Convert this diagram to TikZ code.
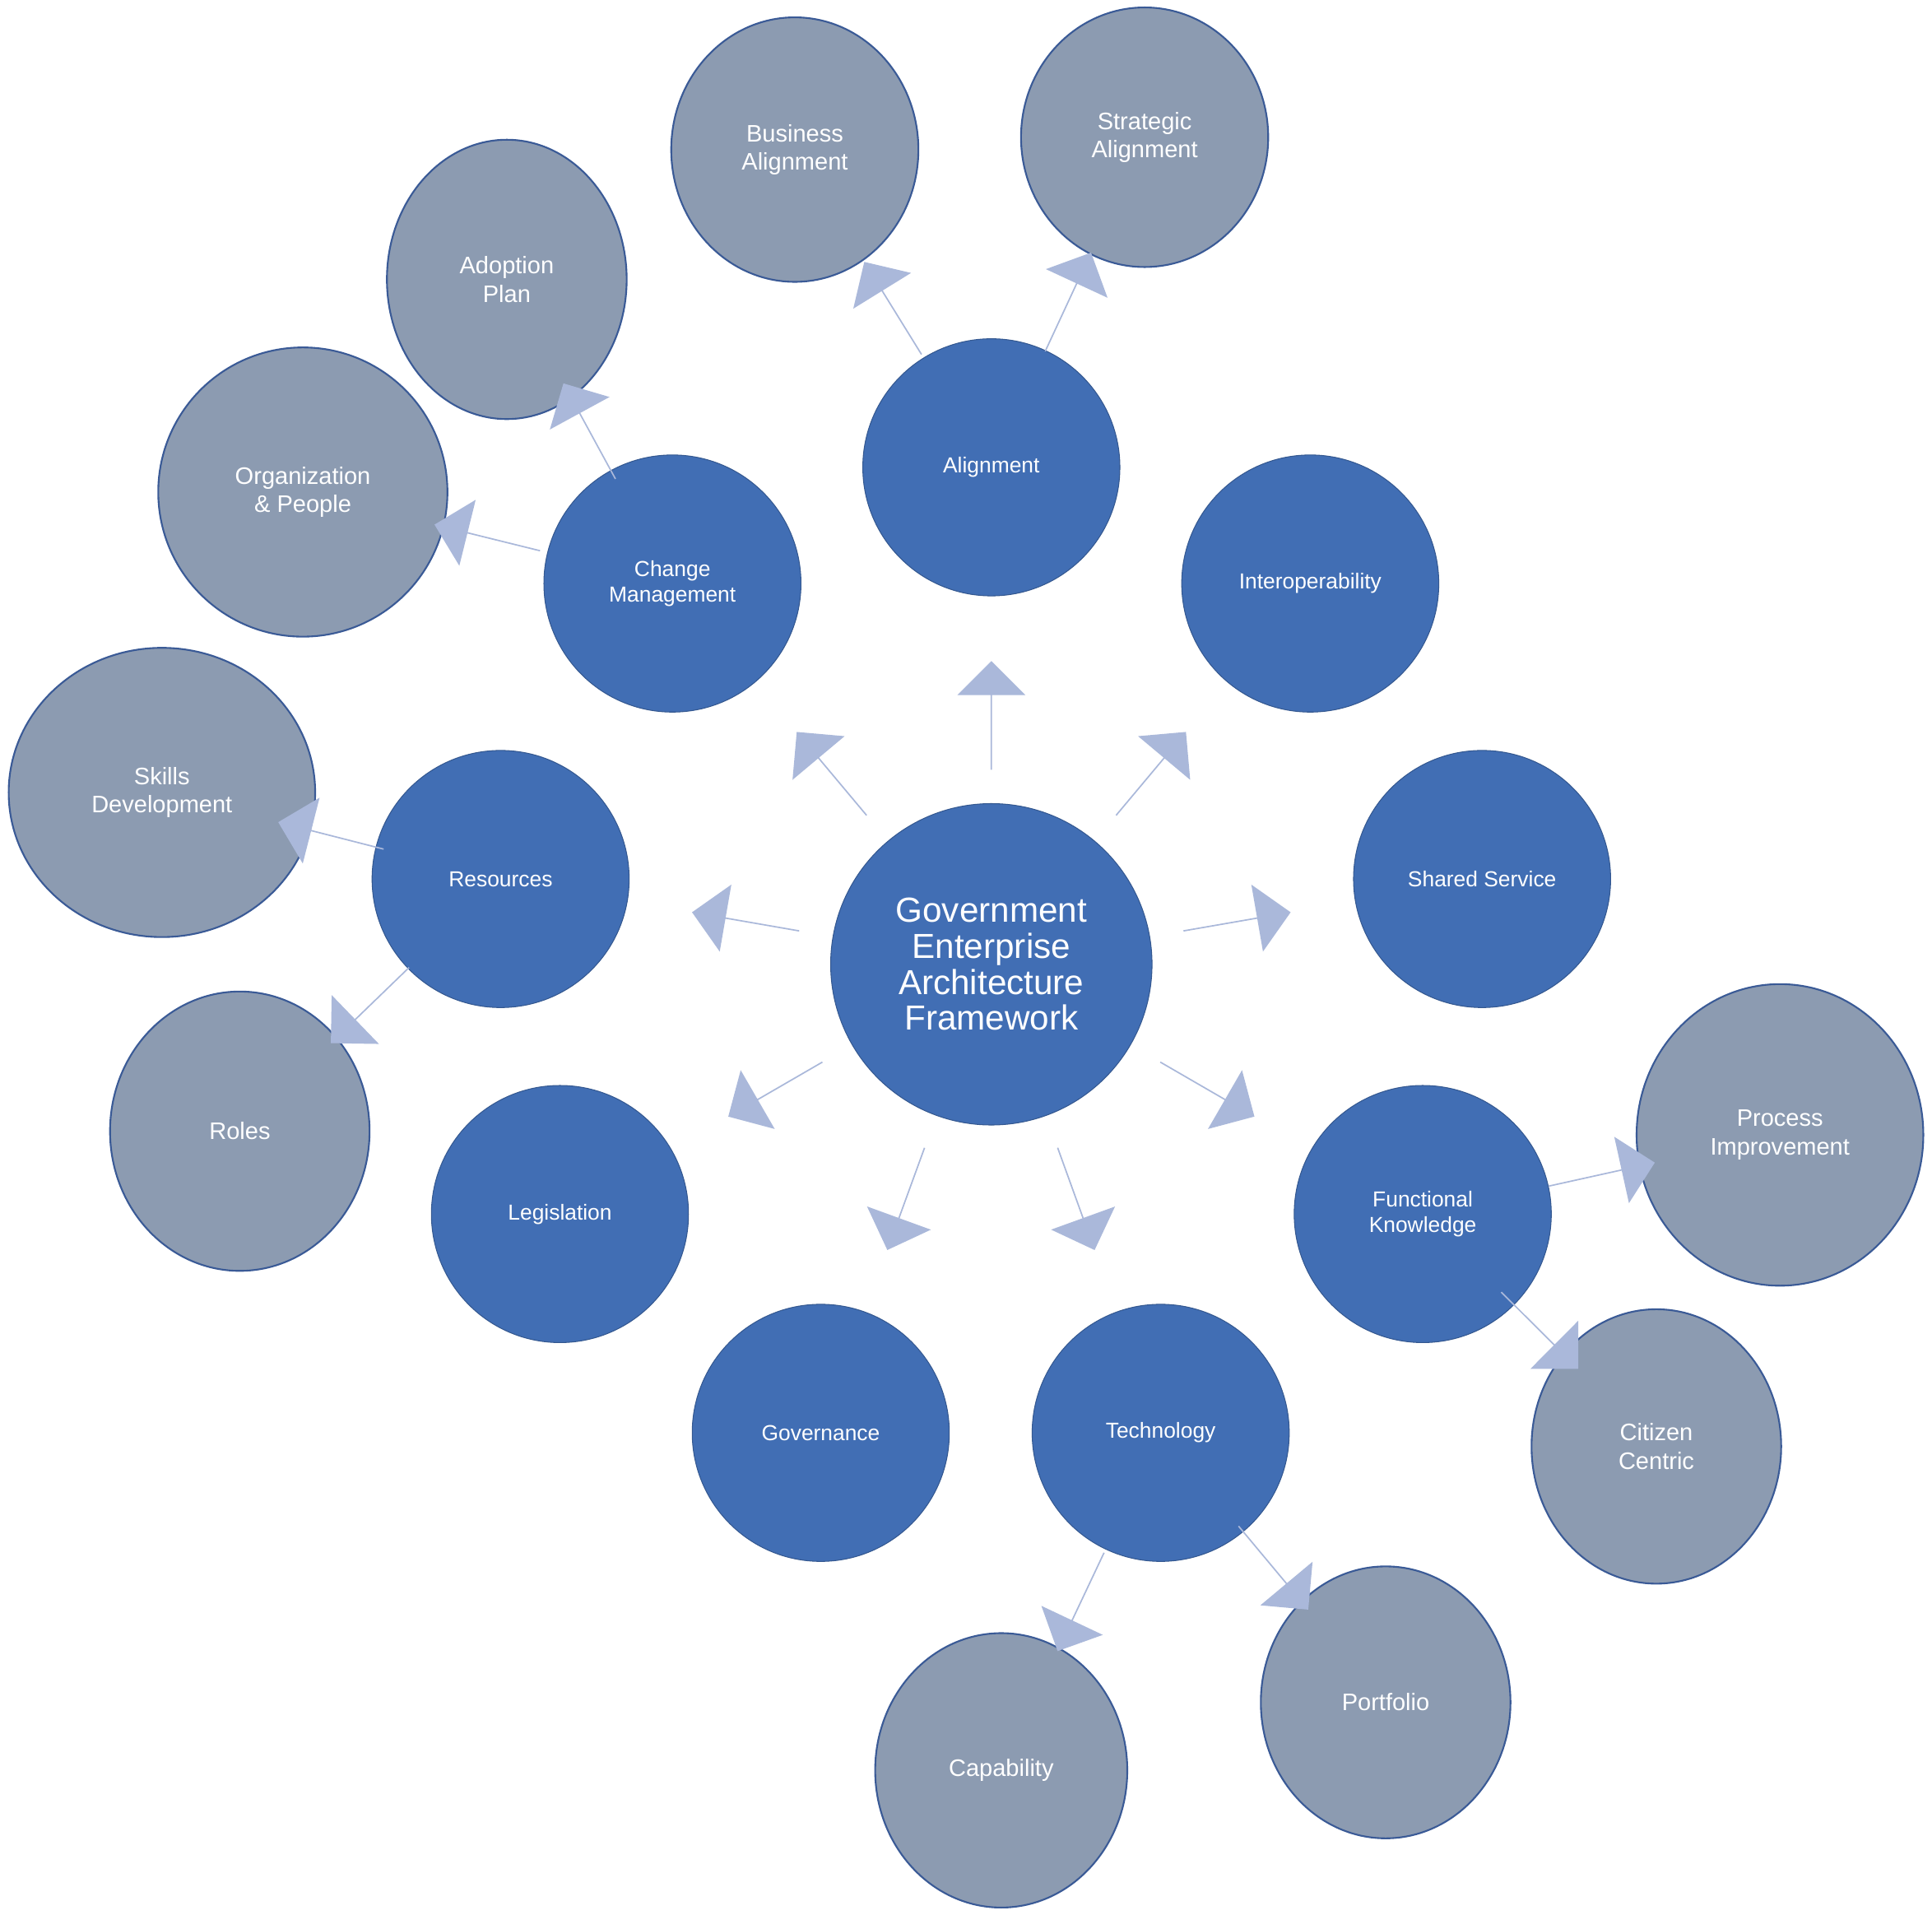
\documentclass[tikz,border=0pt]{standalone}
\usepackage{fontspec}
\setmainfont{Liberation Sans}
\usetikzlibrary{shapes.arrows,shapes.geometric,calc}
\definecolor{hubblue}{HTML}{416EB4}
\definecolor{leafgrey}{HTML}{8C9BB1}
\definecolor{rimblue}{HTML}{3A5A96}
\definecolor{arrowblue}{HTML}{AAB8DA}
\tikzset{
  hub/.style={circle, fill=hubblue, draw=hubblue!80!black, minimum size=4.16cm, text=white, align=center, font=\fontsize{10}{11.5}\selectfont},
  leaf/.style={ellipse, fill=leafgrey, draw=rimblue, line width=0.8pt, text=white, align=center, font=\fontsize{11}{13}\selectfont, inner sep=0pt},
  arr/.style={single arrow, fill=arrowblue, draw=none, minimum width=1.1cm, minimum height=1.76cm, single arrow head extend=0.33cm, inner sep=0pt, transform shape=false},
}
\newcommand{\pointer}[2]{% block arrow halfway between two circles
  \path let \p1=(#1), \p2=(#2), \n1={atan2(\y2-\y1,\x2-\x1)} in
    node[arr, rotate=\n1] at ($(#1)!0.5!(#2)$) {};}
\begin{document}
\begin{tikzpicture}[x=0.02cm, y=-0.02cm]
  \useasboundingbox (0,0) rectangle (1563,1549);
  % Centre
  \node[hub, minimum size=5.2cm, font=\fontsize{16}{16.5}\selectfont] (gea) at (802,780)
    {Government\\Enterprise\\Architecture\\Framework};
  % First ring
  \node[hub] (align) at (802,378) {Alignment};
  \node[hub] (inter) at (1060,472) {Interoperability};
  \node[hub] (shared) at (1199,711) {Shared Service};
  \node[hub] (funct) at (1151,982) {Functional\\Knowledge};
  \node[hub] (tech) at (939,1159) {Technology};
  \node[hub] (gov) at (664,1159) {Governance};
  \node[hub] (legis) at (453,982) {Legislation};
  \node[hub] (resrc) at (405,711) {Resources};
  \node[hub] (change) at (544,472) {Change\\Management};
  % Outer ring
  \node[leaf, minimum width=4.0cm, minimum height=4.28cm] (busal) at (643,121) {Business\\Alignment};
  \node[leaf, minimum width=4.0cm, minimum height=4.2cm] (stral) at (926,111) {Strategic\\Alignment};
  \node[leaf, minimum width=3.88cm, minimum height=4.52cm] (adopt) at (410,226) {Adoption\\Plan};
  \node[leaf, minimum width=4.68cm, minimum height=4.68cm] (orgpp) at (245,398) {Organization\\\& People};
  \node[leaf, minimum width=4.96cm, minimum height=4.68cm] (skill) at (131,641) {Skills\\Development};
  \node[leaf, minimum width=4.2cm, minimum height=4.52cm] (roles) at (194,915) {Roles};
  \node[leaf, minimum width=4.64cm, minimum height=4.88cm] (procs) at (1440,918) {Process\\Improvement};
  \node[leaf, minimum width=4.04cm, minimum height=4.44cm] (citiz) at (1340,1170) {Citizen\\Centric};
  \node[leaf, minimum width=4.04cm, minimum height=4.4cm] (portf) at (1121,1377) {Portfolio};
  \node[leaf, minimum width=4.08cm, minimum height=4.44cm] (capab) at (810,1432) {Capability};
  % Arrows from the centre
  \foreach \t in {align,inter,shared,funct,tech,gov,legis,resrc,change} {
    \pointer{gea}{\t}
  }
  % Arrows to the outer ring
  \foreach \s/\t in {align/busal, align/stral, change/adopt, change/orgpp, resrc/skill,
                     resrc/roles, funct/procs, funct/citiz, tech/portf, tech/capab} {
    \pointer{\s}{\t}
  }
\end{tikzpicture}
\end{document}
